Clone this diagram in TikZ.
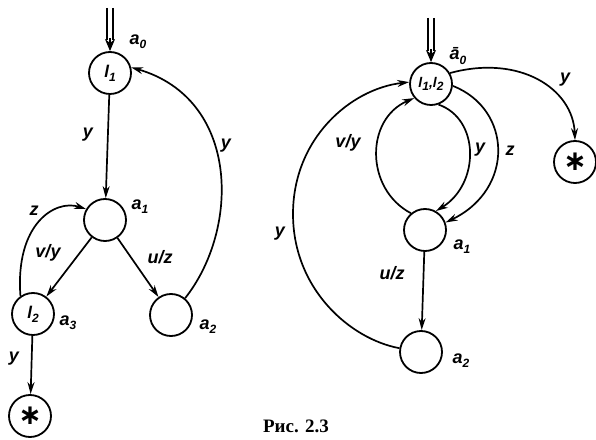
\documentclass[tikz,border=0pt]{standalone}
\usepackage{fontspec}
\setmainfont{Liberation Sans}
\newfontfamily\capfont{Liberation Serif}
\newfontfamily\labfont{Liberation Sans}
\newfontfamily\symfont{DejaVu Sans}
\usetikzlibrary{arrows.meta}
\newcommand\sbx[2]{#1\raisebox{-0.45ex}{\fontsize{12}{12}\selectfont #2}}
\begin{document}
\begin{tikzpicture}[x=1pt,y=1pt,
  st/.style={draw, circle, line width=1.8pt, minimum size=42pt, inner sep=0pt,
    font=\labfont\bfseries\itshape\fontsize{17}{17}\selectfont},
  ed/.style={line width=1.7pt, -{Stealth[length=12pt,width=7pt]}},
  dbl/.style={line width=1.6pt},
  dtip/.style={line width=1.6pt, -{Stealth[length=12pt,width=10pt]}},
  lb/.style={font=\labfont\bfseries\itshape\fontsize{18}{18}\selectfont, inner sep=0pt}]
\useasboundingbox (0,0) rectangle (596,439);
% left graph
\node[st] (l1) at (110,366) {\sbx{l}{1}};
\node[st] (a1) at (105,219) {};
\node[st] (l2) at (33,125) {\sbx{l}{2}};
\node[st] (a2) at (171,124) {};
\node[st] (s1) at (30,23) {\symfont\fontsize{28}{28}\selectfont ∗};
\coordinate (in1) at (110,431);
\draw[dbl] ([xshift=-3pt]in1) -- ([xshift=-3pt,yshift=11pt]l1.north);
\draw[dbl] ([xshift=3pt]in1) -- ([xshift=3pt,yshift=11pt]l1.north);
\draw[dtip] ([yshift=13pt]l1.north) -- (l1.north);
\draw[ed] (l1) -- (a1);
\draw[ed] (a1) -- (l2);
\draw[ed] (a1) -- (a2);
\draw[ed] (l2) -- (s1);
\draw[ed] (l2.125) .. controls (15,215) and (55,240) .. (a1.150);
\draw[ed] (a2.50) .. controls (240,210) and (240,340) .. (l1.15);
\node[lb] (ta0) at (138,397) {\sbx{a}{0}};
\node[lb] (ty1) at (88,304) {y};
\node[lb] (ta1) at (140,232) {\sbx{a}{1}};
\node[lb] (tz1) at (34,228) {z};
\node[lb] (tvy1) at (48,186) {v/y};
\node[lb] (tuz1) at (160,182) {u/z};
\node[lb] (ta3) at (68,116) {\sbx{a}{3}};
\node[lb] (ta2) at (208,112) {\sbx{a}{2}};
\node[lb] (ty2) at (14,80) {y};
\node[lb] (ty3) at (226,293) {y};
% right graph
\node[st, font=\labfont\bfseries\itshape\fontsize{14}{14}\selectfont] (L) at (431,355) {\sbx{l}{1},\sbx{l}{2}};
\node[st] (s2) at (575,277) {\symfont\fontsize{28}{28}\selectfont ∗};
\node[st] (b1) at (425,209) {};
\node[st] (b2) at (421,87) {};
\coordinate (in2) at (431,421);
\coordinate (bv) at (293,225);
\draw[dbl] ([xshift=-3pt]in2) -- ([xshift=-3pt,yshift=11pt]L.north);
\draw[dbl] ([xshift=3pt]in2) -- ([xshift=3pt,yshift=11pt]L.north);
\draw[dtip] ([yshift=13pt]L.north) -- (L.north);
\draw[ed] (L.30) .. controls (520,385) and (573,350) .. (s2.north);
\draw[ed] (b2.170) .. controls (350,100) and (293,150) .. (bv) .. controls (293,300) and (350,350) .. (L.175);
\draw[ed] (b1.130) .. controls (365,250) and (365,320) .. (L.220);
\draw[ed] (L.290) .. controls (480,320) and (480,255) .. (b1.60);
\draw[ed] (L.-5) .. controls (512,330) and (515,250) .. (b1.20);
\draw[ed] (b1) -- (b2);
\node[lb] (tb0) at (458,383) {\sbx{ā}{0}};
\node[lb] (ty4) at (565,359) {y};
\node[lb] (tvy2) at (348,296) {v/y};
\node[lb] (ty5) at (480,289) {y};
\node[lb] (tz2) at (510,288) {z};
\node[lb] (ty6) at (280,205) {y};
\node[lb] (tb1) at (462,192) {\sbx{a}{1}};
\node[lb] (tuz2) at (392,166) {u/z};
\node[lb] (tb2) at (461,78) {\sbx{a}{2}};
\node[font=\capfont\bfseries\fontsize{19}{19}\selectfont, inner sep=0pt] (cap) at (296,13) {Рис. 2.3};
\end{tikzpicture}
\end{document}
